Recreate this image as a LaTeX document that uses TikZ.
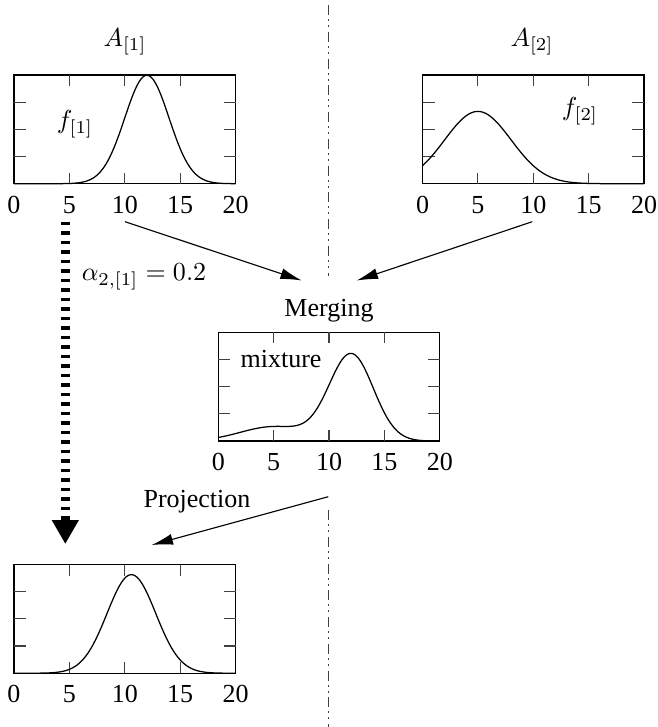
\RequirePackage{fix-cm}
\documentclass[tikz,border=0pt]{standalone}
\usepackage[no-math]{fontspec}
\setmainfont{Liberation Serif}
\usetikzlibrary{arrows.meta}
\pgfmathdeclarefunction{gauss}{3}{\pgfmathparse{0.398942/#3*exp(-((#1-#2)^2)/(2*#3*#3))}}
\tikzset{
  frame/.style={draw, line width=0.45pt, minimum width=88.6pt, minimum height=43.48pt, inner sep=0pt, outer sep=0pt},
  tick/.style={line width=0.45pt, black!75},
  curve/.style={line width=0.5pt},
  txt/.style={font=\fontsize{10.4}{12.5}\selectfont, inner sep=0pt},
  ticklab/.style={txt},
  conn/.style={line width=0.45pt, -{Latex[length=8.5pt,width=4.4pt]}},
  bigdash/.style={line width=3.6pt, dash pattern=on 1.48pt off 2.32pt, -{Triangle[length=9.6pt,width=10.2pt]}},
  divider/.style={line width=0.5pt, black!75, dash pattern=on 4pt off 1.6pt on 0.8pt off 1.6pt on 0.8pt off 1.9pt},
}
\newcommand\drawplot[2]{%
  \begin{scope}[shift={(#1.south west)}, x=4.43pt, y=217.4pt]
    \foreach \t in {5,10,15} {
      \draw[tick] (\t,0) -- ++(0pt,4.4pt);
      \draw[tick] (\t,0.2) -- ++(0pt,-4.4pt);
    }
    \foreach \t in {0.05,0.1,0.15} {
      \draw[tick] (0,\t) -- ++(4.8pt,0pt);
      \draw[tick] (20,\t) -- ++(-4.8pt,0pt);
    }
    \draw[curve] plot[domain=0:20, samples=161, smooth] (\x,{#2});
    \foreach \v in {0,5,10,15,20}
      \node[ticklab] (#1-l\v) at ([yshift=-8.4pt]\v,0) {\v};
  \end{scope}%
}
\begin{document}
\begin{tikzpicture}[x=0.4pt, y=-0.4pt]
\useasboundingbox (0,0) rectangle (658,727);

% dividers
\coordinate (d1) at (328.5,5);
\coordinate (d2) at (328.5,276);
\coordinate (d3) at (328.5,510);
\coordinate (d4) at (328.5,727);
\draw[divider] (d1) -- (d2);
\draw[divider] (d3) -- (d4);

% frames
\node[frame] (p1) at (124.75,129.35) {};
\node[frame] (p2) at (533.25,129.35) {};
\node[frame] (pm) at (329.05,386.7) {};
\node[frame] (pp) at (124.75,618.85) {};

\drawplot{p1}{gauss(\x,12,2)}
\drawplot{p2}{gauss(\x,5,3)}
\drawplot{pm}{0.8*gauss(\x,12,2)+0.2*gauss(\x,5,3)}
\drawplot{pp}{gauss(\x,10.6,2.2)}

% labels
\node[txt] (A1) at (125,42) {$A_{[1]}$};
\node[txt] (A2) at (532,42) {$A_{[2]}$};
\node[txt] (f1) at (75,124) {$f_{[1]}$};
\node[txt] (f2) at (580,111) {$f_{[2]}$};
\node[txt] (mix) at (281,359) {mixture};
\node[txt] (merge) at (329,311) {Merging};
\node[txt] (proj) at (197,502) {Projection};
\node[txt] (alpha) at (144,277) {$\alpha_{2,[1]}=0.2$};

% connectors
\coordinate (s1) at (125,221.7);
\coordinate (e1) at (301.7,280.5);
\coordinate (s2) at (532.3,221.7);
\coordinate (e2) at (356.7,280.5);
\coordinate (s3) at (328.3,496.7);
\coordinate (e3) at (151.7,545);
\coordinate (s4) at (65.3,221.7);
\coordinate (e4) at (65.3,544);
\draw[conn] (s1) -- (e1);
\draw[conn] (s2) -- (e2);
\draw[conn] (s3) -- (e3);
\draw[bigdash] (s4) -- (e4);
\end{tikzpicture}
\end{document}
